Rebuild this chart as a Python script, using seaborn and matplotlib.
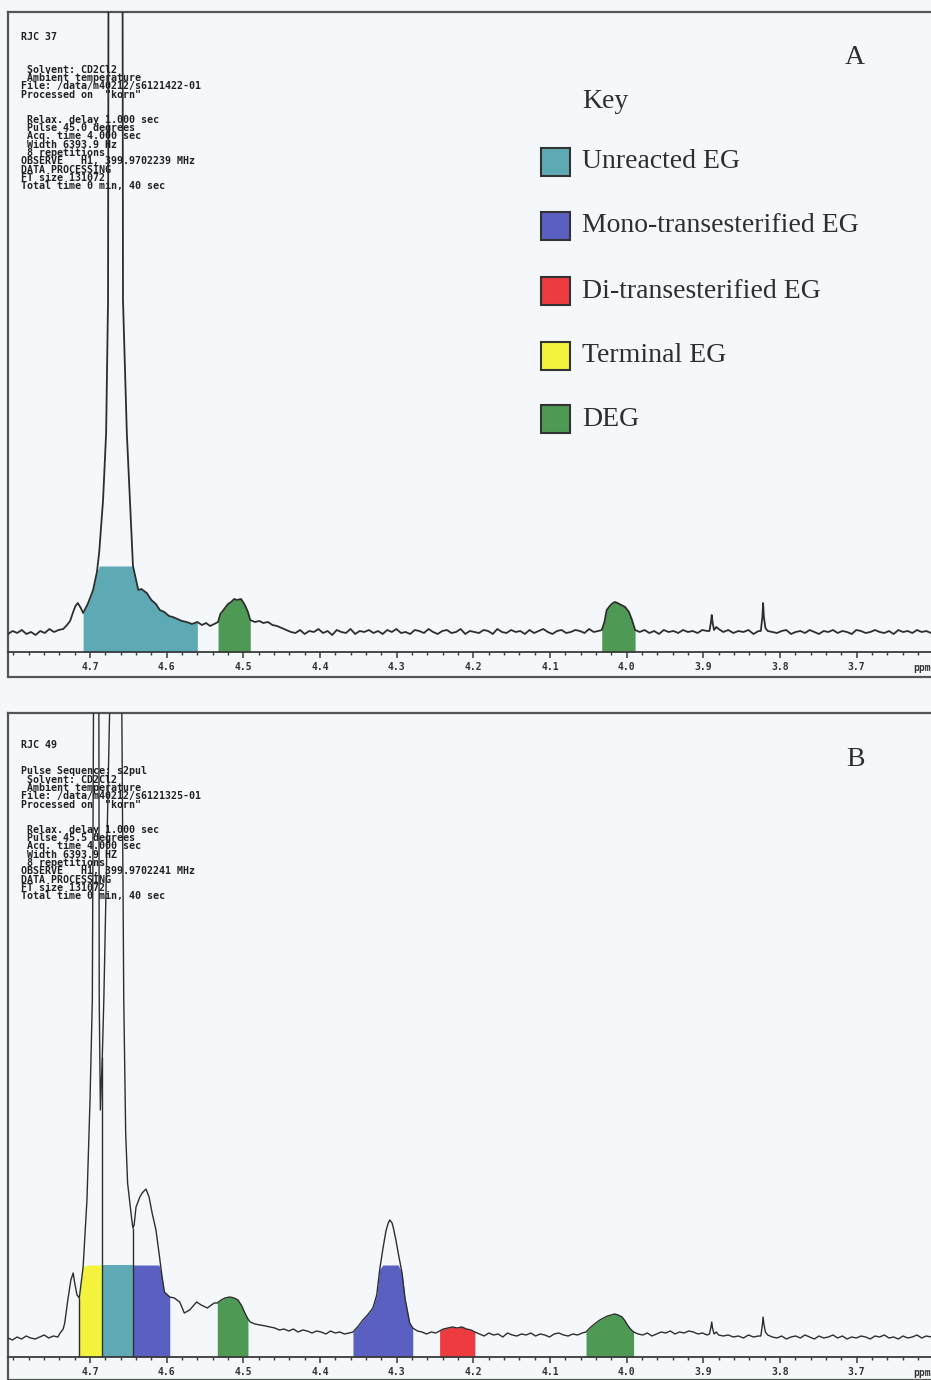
import numpy as np
import pandas as pd
import matplotlib
matplotlib.use("Agg")
import matplotlib.pyplot as plt
from matplotlib.patches import Rectangle
from matplotlib.ticker import FixedLocator, MultipleLocator
import seaborn as sns


# Configuration
sns.set_theme(style="white")
plt.rcParams["font.family"] = ["DejaVu Sans"]

W, H = 931, 1380
BG = "#f4f8fa"
INK = "#2e2e2e"

# ---------------------------------------------------------------
# Spectrum A (RJC 37): baseline stretches are (start, stop, heights),
# peak stretches are (ppm list, height list).  Heights in arbitrary units.
# ---------------------------------------------------------------
a_base_1 = (4.807, 4.741, [18, 21, 19, 22, 18, 20, 17, 21, 19, 23, 20, 22])
a_peak_1 = (
    [4.735, 4.730, 4.726, 4.722, 4.719, 4.716, 4.712, 4.709, 4.703, 4.696,
     4.691, 4.688, 4.683, 4.679, 4.6765, 4.6760, 4.667, 4.6575, 4.657, 4.652,
     4.648, 4.645, 4.644, 4.637, 4.633, 4.626, 4.620, 4.614, 4.609, 4.603,
     4.597, 4.592, 4.586, 4.580, 4.574, 4.567, 4.560],
    [23, 27, 31, 40, 46, 49, 44, 39, 48, 62,
     80, 100, 152, 219, 352, 644, 3000, 644, 352, 219,
     152, 102, 86, 62, 63, 59, 52, 48, 42, 40,
     36, 35, 33, 31, 30, 28, 30],
)
a_base_2 = (4.554, 4.538, [27, 29, 26, 28])
a_peak_2 = (
    [4.533, 4.530, 4.526, 4.520, 4.516, 4.512, 4.508, 4.503, 4.498, 4.494,
     4.491, 4.485, 4.479, 4.474, 4.468, 4.462, 4.456, 4.450, 4.444, 4.438],
    [30, 38, 42, 48, 50, 53, 52, 53, 47, 40,
     32, 30, 31, 29, 30, 27, 26, 24, 22, 20],
)
a_base_3 = (4.432, 4.037, [
    19, 22, 18, 21, 20, 23, 19, 21, 17, 22, 20, 19, 23, 18, 21, 20, 22, 19,
    21, 18, 22, 20, 23, 19, 20, 18, 22, 21, 19, 23, 20, 18, 21, 22, 19, 20,
    23, 18, 21, 20, 19, 22, 21, 18, 23, 20, 19, 22, 20, 21, 18, 22, 19, 21,
    23, 20, 18, 21, 22, 19, 20, 22, 21, 19, 23, 20, 21])
a_peak_3 = (
    [4.0325, 4.029, 4.026, 4.022, 4.018, 4.015, 4.012, 4.007, 4.002, 3.997,
     3.993, 3.989],
    [22, 30, 42, 46, 49, 50, 49, 47, 45, 40, 32, 22],
)
a_base_4 = (3.983, 3.895, [20, 22, 19, 21, 18, 22, 20, 21, 19, 22, 20, 21, 19, 22, 21])
a_peak_4 = ([3.892, 3.890, 3.889, 3.888, 3.886, 3.883, 3.880],
            [21, 30, 37, 30, 22, 25, 23])
a_base_5 = (3.874, 3.828, [20, 22, 19, 21, 20, 22, 18, 21])
a_peak_5 = ([3.825, 3.823, 3.822, 3.821, 3.819, 3.816],
            [21, 35, 49, 35, 24, 21])
a_base_6 = (3.810, 3.603, [
    20, 19, 21, 22, 18, 20, 21, 19, 22, 20, 18, 21, 20, 22, 19, 21, 20, 18,
    22, 21, 19, 20, 22, 20, 19, 21, 18, 22, 20, 21, 19, 22, 20, 21, 19])

# ---------------------------------------------------------------
# Spectrum B (RJC 49)
# ---------------------------------------------------------------
b_base_1 = (4.807, 4.742, [19, 17, 20, 18, 21, 19, 18, 20, 22, 19, 21, 20])
b_peak_1 = (
    [4.739, 4.735, 4.733, 4.729, 4.725, 4.722, 4.720, 4.717, 4.714,
     4.709, 4.704, 4.700, 4.697, 4.6955, 4.692, 4.6885, 4.688,
     4.6865, 4.684, 4.682, 4.6745, 4.666, 4.6585, 4.656,
     4.6535, 4.651, 4.6455, 4.644, 4.6425,
     4.640, 4.635, 4.632, 4.627, 4.623, 4.619, 4.614, 4.610, 4.606, 4.603,
     4.596, 4.590, 4.583, 4.577, 4.570, 4.561, 4.555, 4.547, 4.538],
    [24, 28, 34, 57, 77, 84, 74, 62, 59,
     90, 157, 257, 357, 644, 3000, 644, 357,
     247, 300, 357, 644, 3000, 644, 357,
     224, 174, 137, 129, 132,
     150, 160, 164, 168, 160, 144, 127, 104, 80, 65,
     60, 59, 55, 44, 47, 55, 52, 49, 54],
)
b_peak_2 = (
    [4.534, 4.529, 4.524, 4.5175, 4.512, 4.507, 4.502, 4.498, 4.494, 4.491,
     4.485, 4.478, 4.471, 4.465],
    [54, 57, 59, 60, 59, 57, 51, 44, 38, 35, 33, 32, 31, 30],
)
b_base_2 = (4.459, 4.362, [29, 27, 28, 26, 28, 25, 27, 26, 24, 26, 25, 23, 26, 24, 25, 23, 24])
b_peak_3 = (
    [4.357, 4.350, 4.344, 4.337, 4.331, 4.326, 4.322, 4.318, 4.314, 4.311,
     4.309, 4.306, 4.304, 4.301, 4.298, 4.293, 4.289, 4.283, 4.279],
    [25, 31, 37, 43, 49, 62, 88, 108, 126, 134,
     137, 134, 128, 117, 104, 84, 58, 34, 29],
)
b_base_3 = (4.273, 4.249, [26, 25, 23, 25, 24])
b_peak_4 = (
    [4.244, 4.239, 4.233, 4.227, 4.221, 4.215, 4.209, 4.203, 4.198],
    [26, 28, 29, 30, 29, 30, 28, 27, 25],
)
b_base_4 = (4.192, 4.058, [23, 21, 24, 22, 23, 20, 24, 22, 21, 23, 22, 24,
                           21, 23, 22, 20, 23, 24, 22, 21, 23, 22, 24])
b_peak_5 = (
    [4.053, 4.048, 4.042, 4.035, 4.030, 4.025, 4.020, 4.016, 4.011, 4.006,
     4.002, 3.999, 3.995, 3.991],
    [25, 29, 33, 37, 39, 41, 42, 43, 42, 40, 36, 32, 28, 25],
)
b_base_5 = (3.985, 3.895, [23, 22, 24, 21, 23, 25, 24, 26, 23, 25, 24, 26, 25, 23, 24, 22])
b_peak_6 = ([3.892, 3.890, 3.889, 3.888, 3.886, 3.883, 3.880],
            [23, 30, 35, 29, 23, 25, 22])
b_base_6 = (3.874, 3.828, [21, 22, 20, 21, 19, 22, 20, 21])
b_peak_7 = ([3.825, 3.823, 3.822, 3.821, 3.819, 3.816],
            [21, 32, 40, 33, 25, 22])
b_base_7 = (3.810, 3.603, [
    20, 19, 21, 18, 20, 21, 19, 22, 20, 18, 21, 19, 20, 22, 19, 21, 18, 20,
    19, 21, 20, 18, 21, 20, 22, 19, 20, 18, 21, 19, 20, 22, 19, 21, 20])

# Integration regions (category, ppm high, ppm low)
a_regions = [("Unreacted EG", 4.709, 4.560),
             ("DEG", 4.533, 4.491),
             ("DEG", 4.0325, 3.989)]
b_regions = [("Terminal EG", 4.714, 4.684),
             ("Unreacted EG", 4.684, 4.644),
             ("Mono-transesterified EG", 4.644, 4.596),
             ("DEG", 4.534, 4.494),
             ("Mono-transesterified EG", 4.357, 4.279),
             ("Di-transesterified EG", 4.244, 4.198),
             ("DEG", 4.053, 3.991)]
# region boundary markers in B (ppm, height)
b_markers_ppm = [4.714, 4.684, 4.644]
b_markers_int = [59, 300, 129]

key_labels = ["Unreacted EG", "Mono-transesterified EG", "Di-transesterified EG",
              "Terminal EG", "DEG"]
key_colors = ["#5eaab4", "#5a5fc2", "#ee3b40", "#f3f23c", "#4e9a55"]

major_ticks = [4.7, 4.6, 4.5, 4.4, 4.3, 4.2, 4.1, 4.0, 3.9, 3.8, 3.7]
tick_labels = ["4.7", "4.6", "4.5", "4.4", "4.3", "4.2", "4.1", "4.0", "3.9", "3.8", "3.7"]

title_a = ["RJC 37"]
header_a = [" Solvent: CD2Cl2", " Ambient temperature",
            "File: /data/m40212/s6121422-01", "Processed on  \"korn\"", "", "",
            " Relax. delay 1.000 sec", " Pulse 45.0 degrees", " Acq. time 4.000 sec",
            " Width 6393.9 Hz", " 8 repetitions", "OBSERVE   H1, 399.9702239 MHz",
            "DATA PROCESSING", "FT size 131072", "Total time 0 min, 40 sec"]
title_b = ["RJC 49", "Pulse Sequence: s2pul"]
header_b = [" Solvent: CD2Cl2", " Ambient temperature",
            "File: /data/m40212/s6121325-01", "Processed on  \"korn\"", "", "",
            " Relax. delay 1.000 sec", " Pulse 45.5 degrees", " Acq. time 4.000 sec",
            " Width 6393.9 HZ", " 8 repetitions", "OBSERVE   H1, 399.9702241 MHz",
            "DATA PROCESSING", "FT size 131072", "Total time 0 min, 40 sec"]


def fx(x):
    return x / W


def fy(y):
    return 1 - y / H


def build_spectrum(parts):
    ppm, val = [], []
    for part in parts:
        if isinstance(part[0], float):
            start, stop, heights = part
            ppm += list(np.linspace(start, stop, len(heights)))
            val += heights
        else:
            ppm += part[0]
            val += part[1]
    return pd.DataFrame({"ppm": ppm, "intensity": val})


def mono(fig, x, y, s, va="center"):
    fig.text(fx(x), fy(y), s, ha="left", va=va, fontsize=7.2,
             family="DejaVu Sans Mono", fontweight="bold", color="#222222",
             linespacing=0.79)


def draw_panel(fig, top, bottom, axis_y, spec, regions, cap, label, lw):
    ax = fig.add_axes([fx(8), fy(bottom), 1 - fx(8), (bottom - top) / H])
    ax.set_facecolor(BG)
    ax.set_xlim(4.807, 3.603)
    ax.set_ylim(-(bottom - axis_y), axis_y - top)

    colors = dict(zip(key_labels, key_colors))
    x = spec["ppm"].to_numpy()
    y = spec["intensity"].to_numpy()
    for name, hi, lo in regions:
        m = (x <= hi + 1e-6) & (x >= lo - 1e-6)
        ax.fill_between(x[m], 0, np.minimum(y[m], cap), color=colors[name],
                        linewidth=0, zorder=1)

    sns.lineplot(data=spec, x="ppm", y="intensity", ax=ax, sort=False,
                 estimator=None, color=INK, linewidth=lw, zorder=3)
    ax.set_xlabel("")
    ax.set_ylabel("")
    ax.set_yticks([])

    for side in ["left", "top"]:
        ax.spines[side].set_color("#555555")
        ax.spines[side].set_linewidth(1.6)
    ax.spines["right"].set_visible(False)
    ax.spines["bottom"].set_position(("data", 0))
    ax.spines["bottom"].set_color("#3a3a3a")
    ax.spines["bottom"].set_linewidth(1.3)
    ax.plot([0, 1], [0, 0], transform=ax.transAxes, color="#555555",
            linewidth=1.6, clip_on=False)

    ax.xaxis.set_major_locator(FixedLocator(major_ticks))
    ax.set_xticklabels(tick_labels)
    ax.xaxis.set_minor_locator(MultipleLocator(0.02))
    ax.tick_params(axis="x", which="major", direction="out", length=4, width=1.1,
                   color="#3a3a3a", pad=3.5, labelsize=7, labelcolor="#333333",
                   bottom=True)
    ax.tick_params(axis="x", which="minor", direction="out", length=2.5, width=1.0,
                   color="#3a3a3a", bottom=True)
    for t in ax.get_xticklabels():
        t.set_fontfamily("DejaVu Sans Mono")
        t.set_fontweight("bold")

    fig.text(fx(922), fy(axis_y + 16), "ppm", ha="center", va="center",
             fontsize=7, fontweight="bold", family="DejaVu Sans Mono", color="#333333")
    fig.text(fx(855), fy(top + 46), label, ha="center", va="center",
             fontsize=20, family="Liberation Serif", color=INK)
    return ax


def main() -> None:
    fig = plt.figure(figsize=(W / 100, H / 100), dpi=100, facecolor=BG)

    spec_a = build_spectrum([a_base_1, a_peak_1, a_base_2, a_peak_2, a_base_3,
                             a_peak_3, a_base_4, a_peak_4, a_base_5, a_peak_5, a_base_6])
    spec_b = build_spectrum([b_base_1, b_peak_1, b_peak_2, b_base_2, b_peak_3,
                             b_base_3, b_peak_4, b_base_4, b_peak_5, b_base_5,
                             b_peak_6, b_base_6, b_peak_7, b_base_7])

    draw_panel(fig, 12, 677, 652, spec_a, a_regions, 86, "A", 1.3)
    ax_b = draw_panel(fig, 713, 1380, 1357, spec_b, b_regions, 92, "B", 1.0)
    ax_b.vlines(b_markers_ppm, 0, b_markers_int, color=INK, linewidth=1.0, zorder=2)

    # acquisition parameter blocks
    mono(fig, 21, 37, title_a[0])
    mono(fig, 21, 128, "\n".join(header_a))
    mono(fig, 21, 745, title_b[0])
    mono(fig, 21, 771, title_b[1])
    mono(fig, 21, 838, "\n".join(header_b))

    # Key
    fig.text(fx(582), fy(101), "Key", ha="left", va="center", fontsize=20,
             family="Liberation Serif", color=INK)
    key_ys = [162, 226, 291, 356, 419]
    for name, color, yy in zip(key_labels, key_colors, key_ys):
        fig.add_artist(Rectangle((fx(541), fy(yy + 14)), 29 / W, 28 / H,
                                 transform=fig.transFigure, facecolor=color,
                                 edgecolor="#333333", linewidth=1.5))
        fig.text(fx(582), fy(yy), name, ha="left", va="center", fontsize=20,
                 family="Liberation Serif", color=INK)

    fig.savefig("out.png", dpi=100, facecolor=BG)
    plt.close(fig)


if __name__ == "__main__":
    main()
